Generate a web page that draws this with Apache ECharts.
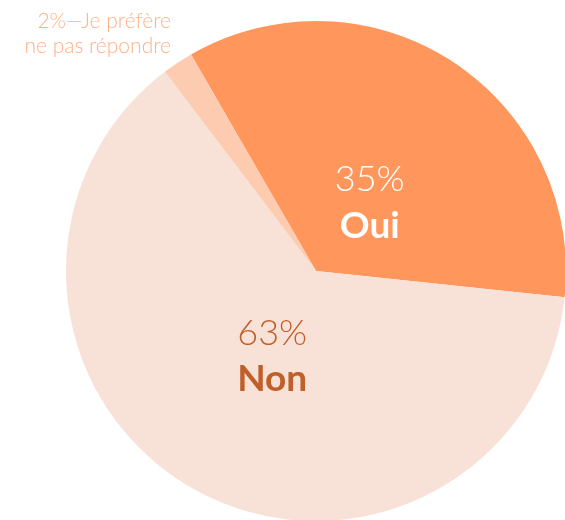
<!DOCTYPE html>
<html>
<head>
<meta charset="utf-8">
<script src="https://cdn.jsdelivr.net/npm/echarts@6/dist/echarts.min.js"></script>
<style>
  html, body { margin: 0; padding: 0; background: #fff; }
  #chart { width: 565px; height: 520px; }
</style>
</head>
<body>
<div id="chart"></div>
<script>
// réponses (en %)
var categories = ['Oui', 'Non', 'Je préfère ne pas répondre'];
var values = [35, 63, 2];
var colors = ['#FF975D', '#F8E2D7', '#FDCBAF'];

var chart = echarts.init(document.getElementById('chart'));

var data = categories.map(function (name, i) {
    return { name: name, value: values[i], itemStyle: { color: colors[i] } };
});

// décalages des étiquettes par rapport à la position "inside"
var labelShift = [[-16, 39], [19, -26]];

var option = {
    animation: false,
    series: [{
        type: 'pie',
        center: [316, 271],
        radius: [0, 250],
        startAngle: 120,
        clockwise: true,
        silent: true,
        itemStyle: { borderWidth: 0 },
        labelLine: { show: false },
        label: {
            show: true,
            position: 'inside',
            fontFamily: 'Lato',
            formatter: function (p) {
                if (p.dataIndex === 2) {
                    return '{s|' + p.value + '%—Je préfère}\n{s|ne pas répondre}';
                }
                var cls = p.dataIndex === 0 ? 'w' : 'd';
                return '{' + cls + 'p|' + p.value + '%}\n{' + cls + 'n|' + p.name + '}';
            },
            rich: {
                wp: { color: '#fff', fontSize: 36, fontWeight: 300, fontFamily: 'Lato', lineHeight: 46 },
                wn: { color: '#fff', fontSize: 37, fontWeight: 'bold', fontFamily: 'Lato', lineHeight: 46 },
                dp: { color: '#BF5F2A', fontSize: 36, fontWeight: 300, fontFamily: 'Lato', lineHeight: 46 },
                dn: { color: '#BF5F2A', fontSize: 37, fontWeight: 'bold', fontFamily: 'Lato', lineHeight: 46 },
                s: { color: '#FFB287', fontSize: 21, fontWeight: 300, fontFamily: 'Lato', lineHeight: 25, align: 'right' }
            }
        },
        labelLayout: function (params) {
            if (params.dataIndex === 2) {
                return { x: 171, y: 34, align: 'right', verticalAlign: 'middle' };
            }
            var s = labelShift[params.dataIndex];
            return { dx: s[0], dy: s[1] };
        },
        data: data
    }]
};

chart.setOption(option);
</script>
</body>
</html>
